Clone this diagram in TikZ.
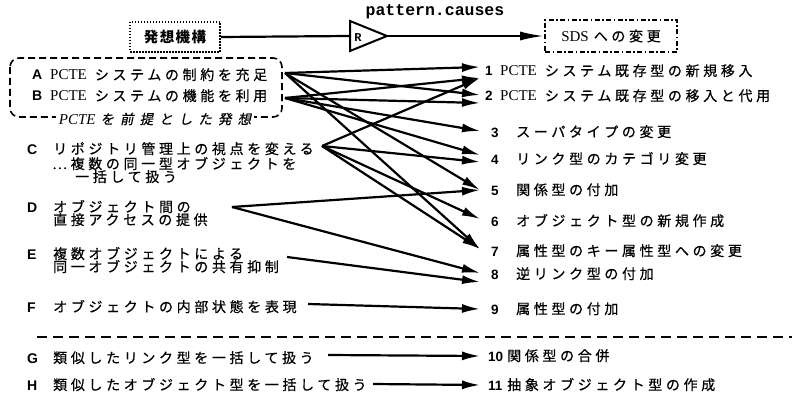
\documentclass[tikz,border=0pt]{standalone}
\usepackage{fontspec}
\setmainfont{Liberation Serif}
\newfontfamily\jp[LetterSpace=26,FakeBold=0.5]{Noto Sans CJK JP}
\newfontfamily\jpbox[LetterSpace=10]{Noto Sans CJK JP}
\newfontfamily\jpsl[LetterSpace=45,FakeSlant=0.2,FakeBold=0.5]{Noto Sans CJK JP}
\newfontfamily\hv{Liberation Sans}
\newfontfamily\mono{Liberation Mono}
\usetikzlibrary{arrows.meta}
\newcommand\pcte{{\rmfamily\fontsize{15}{15}\selectfont PCTE}\hspace{8pt}}
\tikzset{
  lab/.style={anchor=base west, inner sep=0pt, font=\hv\bfseries\fontsize{14}{14}\selectfont},
  num/.style={anchor=base west, inner sep=0pt, font=\hv\bfseries\fontsize{13.5}{13.5}\selectfont},
  txt/.style={anchor=base west, inner sep=0pt, font=\jp\fontsize{14}{14}\selectfont},
  conn/.style={line width=2.2pt, -{Latex[length=18pt,width=9pt]}},
  thick line/.style={line width=2.2pt},
}
\begin{document}
\begin{tikzpicture}[x=1pt,y=-1pt]
\useasboundingbox[fill=white] (0,0) rectangle (794,409);

% ---- top row
\node[draw, line width=2pt, dash pattern=on 1.5pt off 1.5pt, minimum width=90pt, minimum height=30pt, inner sep=0pt] (hs) at (175,37) {\jpbox\bfseries\fontsize{14.5}{14.5}\selectfont 発想機構};
\draw[line width=2pt, line join=miter] (350,21) -- (387,36) -- (350,51) -- cycle;
\coordinate (triW) at (350,36);
\coordinate (triE) at (387,36);
\node[font=\mono\bfseries\fontsize{12}{12}\selectfont, inner sep=0pt] (rr) at (358,38) {R};
\node[font=\mono\bfseries\fontsize{16.5}{16.5}\selectfont, inner sep=0pt] (pc) at (435,12) {pattern.causes};
\node[draw, line width=1.8pt, dash pattern=on 5pt off 2.5pt on 1.5pt off 2.5pt, minimum width=132pt, minimum height=32pt, inner sep=0pt] (sds) at (611,36) {{\rmfamily\fontsize{15}{15}\selectfont SDS}\hspace{5pt}{\jp\fontsize{14}{14}\selectfont への変更}};
\draw[thick line] (hs.east) -- (triW);
\draw[line width=2.2pt, -{Latex[length=24pt,width=9pt]}] (triE) -- (sds.west);

% ---- dashed group box A/B
\draw[line width=1.6pt, dash pattern=on 7pt off 4pt, rounded corners=9pt] (10,58) rectangle (282,117);
\node[fill=white, inner xsep=3pt, inner ysep=1pt] (grp) at (155,119) {{\itshape\fontsize{15}{15}\selectfont PCTE}\hspace{5pt}{\jpsl\fontsize{13.5}{13.5}\selectfont を前提とした発想}};

% ---- left items
\node[lab] (lA) at (32,80) {A};
\node[txt] (tA) at (50,80) {\pcte システムの制約を充足};
\node[lab] (lB) at (32,101) {B};
\node[txt] (tB) at (50,101) {\pcte システムの機能を利用};
\node[lab] (lC) at (27,154) {C};
\node[txt] (tC1) at (53,154) {リポジトリ管理上の視点を変える};
\node[txt] (tC2) at (52,169) {…複数の同一型オブジェクトを};
\node[txt] (tC3) at (75,182) {一括して扱う};
\node[lab] (lD) at (27,212) {D};
\node[txt] (tD1) at (53,212) {オブジェクト間の};
\node[txt] (tD2) at (53,225) {直接アクセスの提供};
\node[lab] (lE) at (27,259) {E};
\node[txt] (tE1) at (53,259) {複数オブジェクトによる};
\node[txt] (tE2) at (53,272) {同一オブジェクトの共有抑制};
\node[lab] (lF) at (27,312) {F};
\node[txt] (tF) at (53,312) {オブジェクトの内部状態を表現};
\node[lab] (lG) at (27,363) {G};
\node[txt] (tG) at (53,363) {類似したリンク型を一括して扱う};
\node[lab] (lH) at (27,390) {H};
\node[txt] (tH) at (53,390) {類似したオブジェクト型を一括して扱う};

% ---- separator
\draw[line width=1.6pt, dash pattern=on 10pt off 6pt] (37,337) -- (792,337);

% ---- right items
\node[num] (n1) at (485,76) {1};
\node[txt] (r1) at (500,76) {\pcte システム既存型の新規移入};
\node[num] (n2) at (485,101) {2};
\node[txt] (r2) at (500,101) {\pcte システム既存型の移入と代用};
\node[num] (n3) at (491,137) {3};
\node[txt] (r3) at (516,137) {スーパタイプの変更};
\node[num] (n4) at (491,164) {4};
\node[txt] (r4) at (516,164) {リンク型のカテゴリ変更};
\node[num] (n5) at (491,195) {5};
\node[txt] (r5) at (516,195) {関係型の付加};
\node[num] (n6) at (491,226) {6};
\node[txt] (r6) at (516,226) {オブジェクト型の新規作成};
\node[num] (n7) at (491,256) {7};
\node[txt] (r7) at (516,256) {属性型のキー属性型への変更};
\node[num] (n8) at (491,279) {8};
\node[txt] (r8) at (516,279) {逆リンク型の付加};
\node[num] (n9) at (491,314) {9};
\node[txt] (r9) at (516,314) {属性型の付加};
\node[num] (n10) at (488,361) {10};
\node[txt] (r10) at (507,361) {関係型の合併};
\node[num] (n11) at (488,390) {11};
\node[txt] (r11) at (507,390) {抽象オブジェクト型の作成};

% ---- connector end points
\coordinate (oA) at (285,73);
\coordinate (oB) at (285,98);
\coordinate (oC) at (322,146);
\coordinate (oD) at (232,207);
\coordinate (oE) at (287,257);
\coordinate (oF) at (308,304);
\coordinate (oG) at (328,355);
\coordinate (oH) at (373,384);
\coordinate (t1a) at (480,67);
\coordinate (t1b) at (480,78);
\coordinate (t2a) at (480,95);
\coordinate (t2b) at (480,103);
\coordinate (t3) at (480,131);
\coordinate (t4a) at (480,155);
\coordinate (t4b) at (480,162);
\coordinate (t5) at (480,190);
\coordinate (t6) at (480,219);
\coordinate (t7) at (480,249);
\coordinate (t8a) at (480,273);
\coordinate (t8b) at (480,282);
\coordinate (t9) at (480,309);
\coordinate (t10) at (480,356);
\coordinate (t11) at (480,385);

% ---- connectors
\draw[conn] (oA) -- (t1a);
\draw[conn] (oA) -- (t2a);
\draw[conn] (oA) -- (t5);
\draw[conn] (oA) -- (t7);
\draw[conn] (oB) -- (t1b);
\draw[conn] (oB) -- (t2b);
\draw[conn] (oB) -- (t3);
\draw[conn] (oB) -- (t4a);
\draw[conn] (oC) -- (t1b);
\draw[conn] (oC) -- (t4b);
\draw[conn] (oC) -- (t6);
\draw[conn] (oC) -- (t7);
\draw[conn] (oD) -- (t5);
\draw[conn] (oD) -- (t8a);
\draw[conn] (oE) -- (t8b);
\draw[conn] (oF) -- (t9);
\draw[conn] (oG) -- (t10);
\draw[conn] (oH) -- (t11);
\end{tikzpicture}
\end{document}
